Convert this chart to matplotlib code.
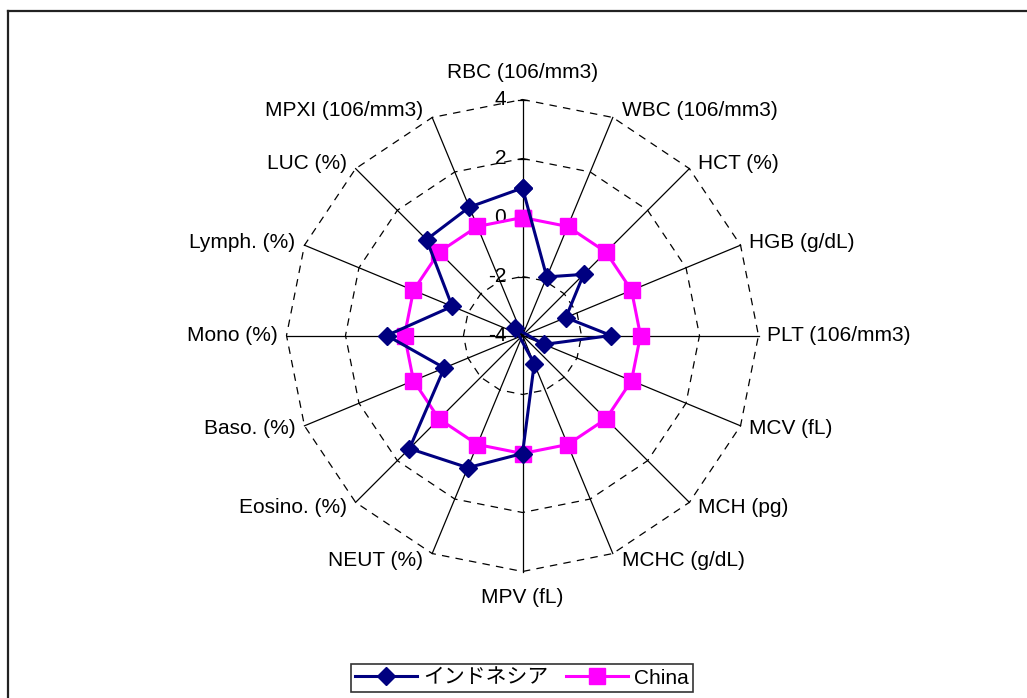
import numpy as np
import matplotlib
matplotlib.use("Agg")
import matplotlib.pyplot as plt
from matplotlib.lines import Line2D

# ----------------------------------------------------------
# Data
# ----------------------------------------------------------
categories = ["RBC (106/mm3)", "WBC (106/mm3)", "HCT (%)", "HGB (g/dL)",
              "PLT (106/mm3)", "MCV (fL)", "MCH (pg)", "MCHC (g/dL)",
              "MPV (fL)", "NEUT (%)", "Eosino. (%)", "Baso. (%)",
              "Mono (%)", "Lymph. (%)", "LUC (%)", "MPXI (106/mm3)"]
indonesia = [1.0, -1.85, -1.07, -2.41, -1.0, -3.21, -4.37, -2.96,
             0.0, 0.85, 1.42, -1.13, 0.6, -1.42, 0.6, 0.71]
china = [0.0] * 16
ring_values = [-4, -2, 0, 2, 4]
series_names = ["インドネシア", "China"]

RMIN, RMAX = -4, 4
PX = 29.5          # pixels per data unit
CX, CY = 522.5, 335.5
W, H = 1027, 698

plt.rcParams["font.family"] = ["Liberation Sans", "Noto Sans CJK JP", "DejaVu Sans"]

fig = plt.figure(figsize=(W / 100, H / 100), dpi=100)
ax = fig.add_axes([0, 0, 1, 1])
ax.set_xlim(-CX / PX, (W - CX) / PX)
ax.set_ylim(-(H - CY) / PX, CY / PX)
ax.axis("off")

n = len(categories)
ang = np.arange(n) * 2 * np.pi / n   # clockwise from top


def to_xy(vals):
    r = np.asarray(vals, float) - RMIN
    return r * np.sin(ang), r * np.cos(ang)


# dashed polygon grid
for v in ring_values[1:]:
    r = v - RMIN
    xs = np.append(r * np.sin(ang), r * np.sin(ang[0]))
    ys = np.append(r * np.cos(ang), r * np.cos(ang[0]))
    ax.plot(xs, ys, color="black", lw=0.9, ls=(0, (6, 5)), zorder=1)

# spokes
R = RMAX - RMIN
for a in ang:
    ax.plot([0, R * np.sin(a)], [0, R * np.cos(a)], color="black", lw=0.9, zorder=1)

# value axis ticks + labels
for v in ring_values:
    r = v - RMIN
    ax.plot([-0.15, 0.15], [r, r], color="black", lw=0.9, zorder=1)
    ax.text(-0.55, r, str(v), ha="right", va="center", fontsize=15, zorder=2)

# category labels
for a, lab in zip(ang, categories):
    ex, ey = R * np.sin(a), R * np.cos(a)
    s, c = np.sin(a), np.cos(a)
    if abs(s) < 1e-6:
        ha = "center"
        tx, ty = ex, ey + (0.9 if c > 0 else -0.88)
    else:
        ha = "left" if s > 0 else "right"
        tx = ex + 0.3 * np.sign(s)
        ty = ey + 0.24 * c
    ax.text(tx, ty, lab, ha=ha, va="center", fontsize=15, zorder=2)

# series
x1, y1 = to_xy(indonesia)
ax.plot(np.append(x1, x1[0]), np.append(y1, y1[0]), color="#000080", lw=2.2,
        marker="D", ms=9, zorder=4)
x2, y2 = to_xy(china)
ax.plot(np.append(x2, x2[0]), np.append(y2, y2[0]), color="#ff00ff", lw=2.2,
        marker="s", ms=11, zorder=3)

# frame (top and left edge only visible)
fig.add_artist(Line2D([7.5 / W, 1], [1 - 11 / H, 1 - 11 / H], color="#222222", lw=1.6))
fig.add_artist(Line2D([7.5 / W, 7.5 / W], [0, 1 - 11 / H], color="#222222", lw=1.6))

# legend
handles = [Line2D([], [], color="#000080", lw=2.2, marker="D", ms=9),
           Line2D([], [], color="#ff00ff", lw=2.2, marker="s", ms=11)]
leg = fig.legend(handles, series_names, loc="center", ncol=2,
                 bbox_to_anchor=(522 / W, 1 - 678 / H), fontsize=15,
                 frameon=True, fancybox=False, edgecolor="black",
                 handlelength=3, handletextpad=0.3, columnspacing=0.8,
                 borderpad=0.2)
leg.get_frame().set_linewidth(1.2)

fig.savefig("out.png", dpi=100)
